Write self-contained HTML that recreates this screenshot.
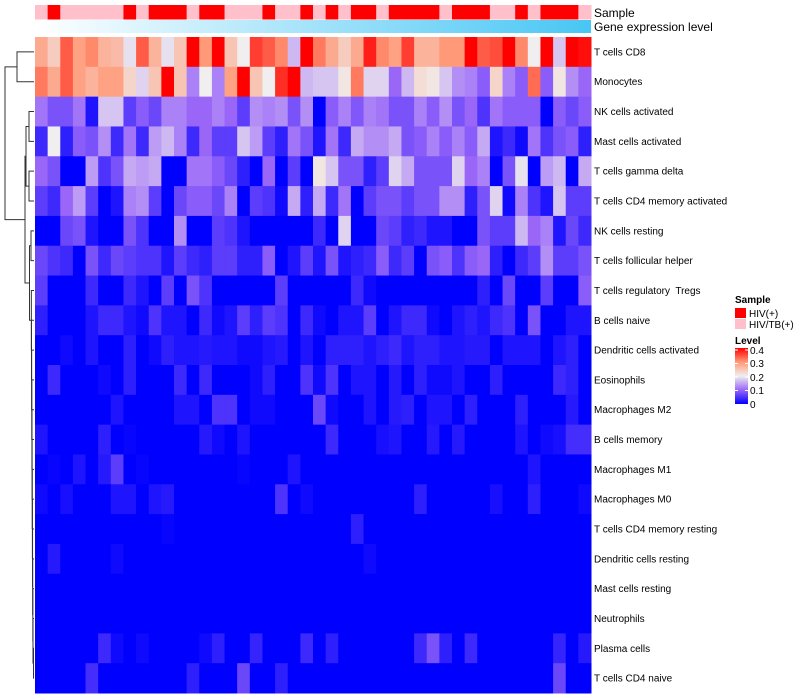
<!DOCTYPE html>
<html><head><meta charset="utf-8"><style>
html,body{margin:0;padding:0;background:#fff;width:800px;height:700px;overflow:hidden}
svg text{font-family:"Liberation Sans",sans-serif}
#labels text{white-space:pre}
</style></head><body>
<svg id="chart" width="800" height="700" xmlns="http://www.w3.org/2000/svg">
<defs>
<linearGradient id="geneGrad" x1="0" x2="1" y1="0" y2="0"><stop offset="0" stop-color="#ffffff"/><stop offset="1" stop-color="#48c6f4"/></linearGradient>
<linearGradient id="levelGrad" x1="0" x2="0" y1="1" y2="0"><stop offset="0" stop-color="#0000ff"/><stop offset="0.25" stop-color="#9966f8"/><stop offset="0.5" stop-color="#f0eeee"/><stop offset="0.75" stop-color="#ff9977"/><stop offset="1" stop-color="#ff0000"/></linearGradient>
</defs>
<g id="annot"></g><g id="cells"></g><g id="labels"></g><g id="dendro" stroke="#333" stroke-width="1" fill="none"></g>
<g id="legend">
<text x="735" y="303" font-size="10" font-weight="bold">Sample</text>
<rect x="735" y="308" width="11" height="10" fill="#ff0000"/>
<text x="749" y="317" font-size="10">HIV(+)</text>
<rect x="735" y="319" width="11" height="10" fill="#ffc0cb"/>
<text x="749" y="328" font-size="10">HIV/TB(+)</text>
<text x="735" y="344" font-size="10" font-weight="bold">Level</text>
<rect x="735" y="348" width="13" height="56" fill="url(#levelGrad)"/>
<g stroke="#fff" stroke-width="1"><line x1="735" x2="738" y1="350" y2="350"/><line x1="745" x2="748" y1="350" y2="350"/><line x1="735" x2="738" y1="363.5" y2="363.5"/><line x1="745" x2="748" y1="363.5" y2="363.5"/><line x1="735" x2="738" y1="377" y2="377"/><line x1="745" x2="748" y1="377" y2="377"/><line x1="735" x2="738" y1="390.5" y2="390.5"/><line x1="745" x2="748" y1="390.5" y2="390.5"/></g>
<text x="750" y="354" font-size="10">0.4</text>
<text x="750" y="367" font-size="10">0.3</text>
<text x="750" y="381" font-size="10">0.2</text>
<text x="750" y="394" font-size="10">0.1</text>
<text x="750" y="408" font-size="10">0</text>
</g>
</svg>
<script>
const rowNames=["T cells CD8","Monocytes","NK cells activated","Mast cells activated","T cells gamma delta","T cells CD4 memory activated","NK cells resting","T cells follicular helper","T cells regulatory  Tregs","B cells naive","Dendritic cells activated","Eosinophils","Macrophages M2","B cells memory","Macrophages M1","Macrophages M0","T cells CD4 memory resting","Dendritic cells resting","Mast cells resting","Neutrophils","Plasma cells","T cells CD4 naive"];
const sampleGroups=[0,1,0,0,0,0,0,1,0,1,1,1,0,1,1,0,0,0,1,0,0,1,0,1,0,1,1,0,1,1,1,1,0,1,1,1,0,0,1,0,1,1,1,0];
const row0=[.28,.24,.34,.29,.31,.27,.26,.19,.34,.27,.19,.25,.4,.3,.4,.25,.2,.36,.34,.31,.16,.4,.32,.28,.24,.28,.38,.31,.29,.36,.27,.27,.3,.3,.4,.34,.35,.4,.31,.2,.4,.17,.4,.39];
const row1=[.32,.28,.34,.29,.27,.29,.29,.23,.18,.25,.4,.25,.12,.2,.12,.29,.4,.25,.2,.37,.4,.16,.17,.17,.21,.32,.18,.18,.1,.16,.22,.21,.17,.13,.12,.09,.23,.12,.09,.33,.09,.21,.13,.1];
const row2=[.11,.08,.08,.11,.02,.17,.17,.06,.09,.07,.12,.12,.1,.1,.12,.1,.06,.13,.12,.13,.08,.13,0,.09,.12,.085,.12,.11,.08,.08,.12,.09,.13,.08,.1,.05,.11,.09,.09,.09,0,.09,.07,.09];
const row3=[.04,.2,.03,.09,.08,.13,.04,.11,.04,.14,.16,.12,.04,.1,.06,.06,.17,.14,.06,.03,.11,.08,.02,.11,.04,.15,.13,.13,.15,.08,.09,.12,.09,.12,.09,.15,.02,.04,.01,.11,.05,.08,.09,.03];
const row4=[.1,.08,0,0,.14,.05,.08,.15,.14,.15,0,0,.11,.11,.09,.07,.03,0,.1,0,.06,0,.21,.17,.08,.08,.03,.06,.18,.15,.08,.08,.08,.18,.1,.12,0,.08,.19,0,.14,.16,0,.15];
const row5=[.06,.04,.1,.14,.06,0,.02,.12,.13,.06,0,.07,.09,.09,.07,.12,0,.06,.05,.01,.15,.03,.15,.04,.11,0,.06,.08,.08,.06,.08,.08,.13,.13,.03,.08,.18,.01,.12,.05,.02,.17,.06,.06];
const row6=[0,0,.07,.08,.02,0,0,.08,.05,0,0,.13,0,0,.06,.05,.02,0,0,0,0,0,.04,0,.18,0,0,.07,.06,.03,.04,.02,.02,0,0,.08,.06,.06,.16,.1,.12,.02,.07,.04];
const row7=[.07,.05,.04,0,.08,.04,.07,.06,.05,.05,.02,.06,.04,.03,.06,.06,.03,.03,.09,0,.02,.06,.02,.08,.02,.03,.04,.09,.04,.06,0,.08,.09,.05,.09,.1,.03,0,.04,.06,.13,.06,.06,.08];
const row8=[.06,0,0,0,.04,0,0,.04,.02,0,.06,0,.08,.05,0,0,0,0,0,.06,0,0,0,0,0,.04,.01,0,0,0,0,0,0,0,0,.03,0,.07,0,0,.06,0,0,.09];
const row9=[.03,0,0,0,.02,.04,.04,.02,.01,.05,.02,.02,0,.04,.01,.02,.06,.03,.06,.05,0,.04,.01,0,.02,.02,.06,0,.02,.04,.04,.01,0,.02,.03,.02,.04,.05,0,.08,0,0,.02,.02];
const row10=[0,0,.01,0,.02,0,0,.03,0,.01,.03,.02,.02,.025,.02,.02,.01,.01,.02,.025,0,.02,0,.03,.03,.03,.02,.03,.04,.02,.03,.03,.02,.02,.025,.025,0,.02,.02,.02,0,.02,.03,0];
const row11=[0,.04,0,0,0,.01,0,.03,0,0,0,.04,0,.04,0,0,0,.01,.03,0,0,.05,.01,.05,0,.02,.02,0,.025,0,.03,.01,.01,.02,0,0,.03,0,0,0,0,.04,.03,0];
const row12=[0,0,0,0,0,0,.02,0,0,0,0,.02,.02,0,.05,.05,0,.01,.01,0,0,0,.07,.01,0,0,.02,0,.025,.03,0,.02,.02,0,.03,0,0,0,.03,0,0,0,.025,0];
const row13=[.02,0,0,0,0,.03,0,.005,0,0,0,0,0,.025,.01,0,.02,0,0,0,0,0,0,.04,0,0,0,.015,.02,0,0,.025,0,.025,0,0,0,0,.02,0,.01,.015,.045,.045];
const row14=[0,.005,0,.02,0,.025,.06,0,.005,0,0,0,0,0,0,0,.005,0,0,0,.02,0,0,0,0,0,0,0,0,0,0,0,0,0,0,0,0,0,0,.02,0,0,0,0];
const row15=[.01,0,.015,0,0,0,.02,.02,0,.02,.025,0,0,0,0,0,0,0,0,.05,0,.01,0,0,0,0,0,0,0,0,.03,0,0,0,0,0,.015,0,0,.03,0,0,0,.01];
const row16=[0,0,0,0,0,0,0,0,0,0,.005,0,0,0,0,0,0,0,0,0,0,0,0,0,0,.03,0,0,0,0,0,0,0,0,0,0,0,0,0,0,0,0,0,0];
const row17=[0,.025,0,0,0,0,.01,0,0,0,0,0,0,0,0,0,0,0,0,0,0,0,0,0,0,0,.01,0,0,0,0,0,0,0,0,0,0,0,0,0,0,0,0,0];
const row18=[0,0,0,0,0,0,0,0,0,0,0,0,0,0,0,0,0,0,0,0,0,0,0,0,0,0,0,0,0,0,0,0,0,0,0,0,0,0,0,0,0,0,0,0];
const row19=[0,0,0,0,0,0,0,0,0,0,0,0,0,0,0,0,0,0,0,0,0,0,0,0,0,0,0,0,0,0,0,0,0,0,0,0,0,0,0,0,0,0,0,0];
const row20=[0,0,0,0,0,.04,.01,0,.01,0,0,0,0,.01,.03,0,0,.035,0,0,0,.04,0,.03,0,0,0,0,0,0,.04,.08,.03,0,.04,0,0,0,0,0,0,.035,0,.025];
const row21=[0,0,0,0,.045,0,0,0,0,0,0,0,.03,0,0,0,.07,0,0,.03,0,0,0,0,0,0,0,0,0,0,0,0,0,0,0,0,0,0,0,0,0,.07,0,0];
const values=[row0,row1,row2,row3,row4,row5,row6,row7,row8,row9,row10,row11,row12,row13,row14,row15,row16,row17,row18,row19,row20,row21];

const NS="http://www.w3.org/2000/svg";
const X0=35,X1=591,Y0=37,Y1=693;
const nC=sampleGroups.length,nR=rowNames.length;
const cw=(X1-X0)/nC,rh=(Y1-Y0)/nR;
function xPos(c){return X0+c*cw}
function yPos(r){return Y0+r*rh}
const stops=[[0,[0,0,255]],[0.1,[153,102,248]],[0.2,[240,238,238]],[0.3,[255,153,119]],[0.4,[255,0,0]]];
function colorOf(v){
  v=Math.max(0,Math.min(0.4,v));
  for(let i=0;i<stops.length-1;i++){
    const a=stops[i],b=stops[i+1];
    if(v<=b[0]){const t=(v-a[0])/(b[0]-a[0]);
      const c=a[1].map((x,k)=>Math.round(x+(b[1][k]-x)*t));
      return `rgb(${c[0]},${c[1]},${c[2]})`;}
  }
  return "rgb(255,0,0)";
}
function mk(tag,attrs,parent){const e=document.createElementNS(NS,tag);for(const k in attrs)e.setAttribute(k,attrs[k]);parent.appendChild(e);return e;}
const gA=document.getElementById('annot'),gC=document.getElementById('cells'),gL=document.getElementById('labels'),gD=document.getElementById('dendro');
for(let c=0;c<nC;c++){
  const r=mk('rect',{x:xPos(c),y:5,width:cw+0.5,height:14.5,fill:sampleGroups[c]?'#ff0000':'#ffc0cb'},gA);
  
  
}
const gr=mk('rect',{x:X0,y:20,width:X1-X0,height:13,fill:'url(#geneGrad)'},gA);


const t1=mk('text',{x:594,y:17,'font-size':12},gA);t1.textContent='Sample';


const t2=mk('text',{x:594,y:31,'font-size':12},gA);t2.textContent='Gene expression level';


for(let r=0;r<nR;r++){
  for(let c=0;c<nC;c++){
    const e=mk('rect',{x:xPos(c),y:yPos(r),width:cw+0.5,height:rh+0.5,fill:colorOf(values[r][c])},gC);
    
    
  }
  const t=mk('text',{x:594,y:yPos(r)+rh/2+3.5,'font-size':10},gL);
  t.textContent=rowNames[r];
  
  
}
function yc(r){return yPos(r)+rh/2}
function seg(d){mk('path',{d:d},gD)}
function join(a,b,x){seg(`M${a[0]},${a[1]}H${x}V${b[1]}H${b[0]}`);return [x,(a[1]+b[1])/2];}
function leaf(r){return [34,yc(r)]}
const n01=join(leaf(0),leaf(1),17);
const n23=join(leaf(2),leaf(3),29);
const n45=join(leaf(4),leaf(5),29);
const nA=join(n23,n45,26);
let nL=join(leaf(20),leaf(21),33.5);
for(let r=19;r>=8;r--){nL=join(leaf(r),nL,33-(19-r)*0.15);}
const n67=join(leaf(6),leaf(7),31);
const nB=join(n67,nL,29.5);
const nAB=join(nA,nB,25);
join(n01,nAB,5);
</script>
</body></html>
